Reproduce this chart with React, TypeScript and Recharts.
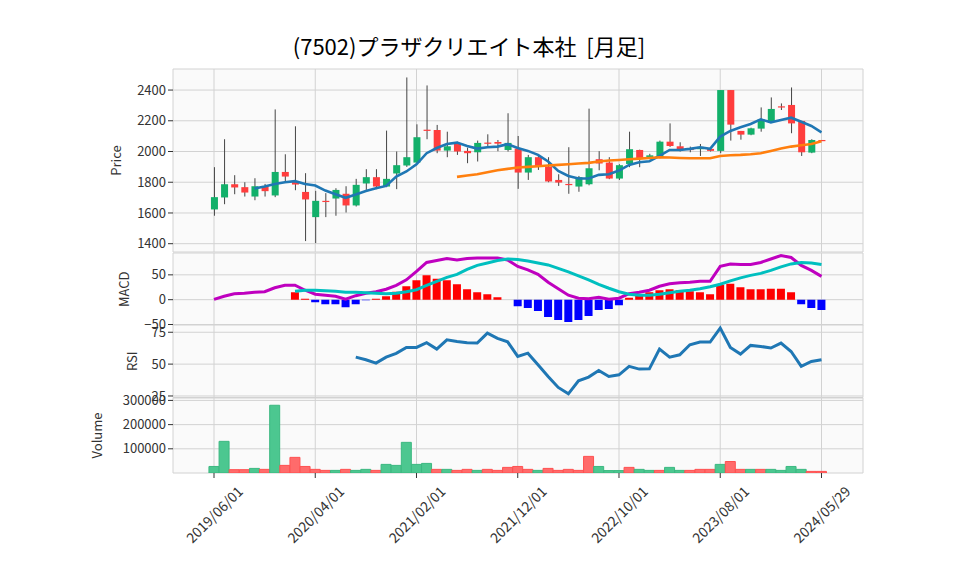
import React from 'react';
import { ComposedChart, Bar, Line, XAxis, YAxis, CartesianGrid, Cell } from 'recharts';

// monthly candles, 2019/06 .. 2024/05
const opens = [
  1623, 1701, 1787, 1768, 1707, 1774, 1714, 1867, 1802, 1737,
  1573, 1679, 1694, 1725, 1649, 1792, 1833, 1772, 1857, 1909,
  1928, 2142, 2140, 2006, 2049, 2004, 1995, 2058, 2062, 2010,
  2019, 1863, 1963, 1902, 1815, 1789, 1772, 1787, 1950, 1928,
  1824, 1919, 2010, 1960, 1963, 2064, 2034, 2017, 2015, 2017,
  2004, 2400, 2134, 2110, 2149, 2194, 2294, 2303, 2199, 1993,
  2075,
];
const highs = [
  1898, 2080, 1846, 1800, 1826, 1789, 2274, 1982, 2164, 1859,
  1744, 1729, 1761, 1774, 1822, 1885, 1885, 2136, 2000, 2482,
  2177, 2430, 2173, 2129, 2064, 2025, 2071, 2112, 2075, 2249,
  2101, 1978, 1978, 1963, 1852, 2028, 1841, 2279, 2002, 1963,
  1917, 2129, 2012, 1985, 2071, 2183, 2060, 2032, 2049, 2019,
  2400, 2400, 2134, 2155, 2287, 2352, 2313, 2417, 2199, 2080,
  2075,
];
const lows = [
  1582, 1657, 1722, 1707, 1683, 1707, 1703, 1805, 1748, 1417,
  1404, 1573, 1582, 1603, 1642, 1750, 1755, 1768, 1755, 1900,
  1925, 2080, 1989, 1963, 1978, 1924, 1935, 2030, 2002, 2000,
  1757, 1815, 1880, 1800, 1776, 1725, 1738, 1780, 1878, 1820,
  1815, 1898, 1898, 1955, 1956, 2030, 2000, 1995, 1971, 2000,
  1989, 2071, 2077, 2106, 2129, 2190, 2270, 2119, 1971, 1989,
  2069,
];
const closes = [
  1703, 1787, 1766, 1733, 1774, 1742, 1867, 1837, 1785, 1688,
  1679, 1675, 1750, 1649, 1783, 1833, 1772, 1822, 1911, 1963,
  2093, 2136, 2006, 2034, 2000, 1989, 2056, 2054, 2051, 2056,
  1863, 1963, 1902, 1805, 1798, 1783, 1833, 1891, 1922, 1824,
  1911, 2015, 1956, 1975, 2064, 2036, 2015, 2012, 2030, 2004,
  2400, 2175, 2110, 2151, 2209, 2277, 2290, 2183, 1995, 2075,
  2069,
];
const maShort = [
  null, null, null, null, 1759, 1772, 1789, 1800, 1807, 1789,
  1779, 1746, 1722, 1699, 1720, 1743, 1761, 1776, 1837, 1870,
  1917, 1989, 2023, 2049, 2058, 2036, 2019, 2028, 2032, 2048,
  2023, 2004, 1978, 1935, 1874, 1841, 1824, 1824, 1848, 1852,
  1876, 1913, 1930, 1937, 1971, 2010, 2010, 2017, 2028, 2017,
  2097, 2134, 2158, 2179, 2209, 2190, 2205, 2220, 2194, 2166,
  2125,
];
const maLong = [
  null, null, null, null, null, null, null, null, null, null,
  null, null, null, null, null, null, null, null, null, null,
  null, null, null, null, 1835, 1844, 1852, 1865, 1878, 1887,
  1896, 1900, 1904, 1909, 1913, 1917, 1922, 1926, 1935, 1941,
  1945, 1950, 1954, 1958, 1963, 1961, 1958, 1956, 1956, 1956,
  1971, 1976, 1978, 1982, 1989, 2004, 2019, 2032, 2041, 2049,
  2067,
];
const macd = [
  0.7, 7, 12, 13, 15, 16, 24, 29, 29, 19,
  11, 9, 7, 1, 8, 13, 16, 21, 29, 40,
  57, 75, 79, 83, 80, 83, 84, 84, 84, 80,
  67, 60, 51, 35, 22, 9, 3, 2, 5, 1,
  3, 12, 15, 19, 27, 32, 34, 35, 37, 37,
  67, 72, 71, 71, 75, 82, 89, 85, 69, 59,
  47,
];
const signal = [
  null, null, null, null, null, null, null, null, 17, 19,
  19, 18, 17, 15, 15, 14, 13, 12, 13, 16,
  20, 29, 37, 45, 51, 61, 69, 74, 79, 82,
  81, 78, 74, 70, 63, 56, 48, 40, 31, 23,
  16, 11, 9, 9, 11, 14, 17, 19, 22, 26,
  31, 38, 44, 49, 53, 59, 66, 72, 75, 74,
  71,
];
const hist = [
  null, null, null, null, null, null, null, null, 15, 2,
  -5, -9, -9, -15, -9, -1, 2, 7, 16, 27,
  39, 49, 42, 39, 31, 21, 15, 11, 5, 0,
  -13, -17, -23, -35, -41, -45, -41, -33, -21, -19,
  -11, 4, 10, 15, 19, 21, 19, 17, 15, 11,
  30, 32, 25, 21, 21, 22, 22, 15, -9, -17,
  -21,
];
const rsi = [
  null, null, null, null, null, null, null, null, null, null,
  null, null, null, null, 55.5, 53.4, 50.8, 55.5, 58.4, 63.1,
  63.1, 66.8, 61.8, 69.1, 67.8, 66.8, 66.5, 74.3, 70.2, 67.5,
  56, 58.6, 49.5, 40.3, 31.7, 26.7, 36.9, 39.8, 45, 40.3,
  41.6, 48.2, 46.1, 46.3, 61.8, 55.5, 57.3, 65.2, 67.3, 67.3,
  78.3, 63.1, 57.9, 64.7, 63.9, 62.6, 66.5, 59.9, 48.2, 52.1,
  53.4,
];
const volumes = [
  27000, 130800, 13700, 13700, 19000, 15000, 280000, 31500, 64600, 27000,
  15000, 10800, 10800, 15000, 10800, 15000, 10800, 35600, 31500, 126700,
  35600, 39700, 15000, 15000, 10800, 15000, 10800, 15000, 10800, 23200,
  27000, 15000, 10800, 19000, 10800, 15000, 10800, 68700, 27000, 10000,
  10000, 23200, 15000, 10800, 10800, 23200, 10800, 10800, 15000, 15000,
  35600, 47500, 15000, 15000, 15000, 15000, 10800, 27000, 15000, 6600,
  6600,
];
// u = close above previous close, d = below
const volumeDir = 'uuddududdddduduuduuuuududduddddduddddduuuduuduudddudduduuuuddud';

const xTicks = [0, 10, 20, 30, 40, 50, 60];
const xTickLabels = ['2019/06/01', '2020/04/01', '2021/02/01', '2021/12/01', '2022/10/01', '2023/08/01', '2024/05/29'];

const priceTicks = [1400, 1600, 1800, 2000, 2200, 2400];
const macdTicks = [-50, 0, 50];
const rsiTicks = [25, 50, 75];
const volumeTicks = [100000, 200000, 300000];

const rows = opens.map((o, i) => ({
  i,
  open: o,
  high: highs[i],
  low: lows[i],
  close: closes[i],
  range: [lows[i], highs[i]],
  maShort: maShort[i],
  maLong: maLong[i],
  macd: macd[i],
  signal: signal[i],
  hist: hist[i],
  rsi: rsi[i],
  vol: volumes[i],
  volUp: volumeDir[i] === 'u',
}));

const UP = '#12b06a';
const DOWN = '#ff3d3d';
const FONT = '"Noto Sans CJK JP", "Noto Sans", sans-serif';
const X_DOMAIN: [number, number] = [-4.05, 64.1];
const W = 958;
const AXIS_W = 90;
const PLOT_LEFT = 173;
const PLOT_RIGHT = 863;
const margin = (top: number, bottom: number) => ({ top, bottom, left: PLOT_LEFT - AXIS_W, right: W - PLOT_RIGHT });
const tickStyle = { fontSize: 13, fill: '#333', fontFamily: FONT };

const Candle = (props: any) => {
  const { x, y, width, height, payload } = props;
  if (x == null || y == null) return null;
  const top = Math.min(y, y + height);
  const h = Math.abs(height);
  const { open, close, high, low } = payload;
  const span = high - low || 1;
  const toY = (v: number) => top + ((high - v) / span) * h;
  const up = close >= open;
  const cx = x + width / 2;
  const bTop = toY(Math.max(open, close));
  const bBot = toY(Math.min(open, close));
  return (
    <g>
      <line x1={cx} x2={cx} y1={top} y2={top + h} stroke="#444" strokeWidth={1} />
      <rect x={x} y={bTop} width={width} height={Math.max(bBot - bTop, 1.2)} fill={up ? UP : DOWN} />
    </g>
  );
};

const DateTick = (props: any) => {
  const { x, y, payload } = props;
  const idx = xTicks.indexOf(payload.value);
  const cy = y + 34;
  return (
    <text
      x={x}
      y={cy}
      textAnchor="middle"
      dominantBaseline="central"
      transform={`rotate(-45, ${x}, ${cy})`}
      fontSize={14}
      fill="#333"
      fontFamily={FONT}
    >
      {xTickLabels[idx]}
    </text>
  );
};

const yLabel = (value: string, dx: number) => ({
  value,
  angle: -90,
  position: 'center' as const,
  dx,
  style: { fontSize: 13, fill: '#333', fontFamily: FONT },
});

const minusFmt = (v: number) => String(v).replace('-', '\u2212');

const Panel = ({ top, plotH, bottom, children }: any) => (
  <div style={{ position: 'absolute', left: 0, top }}>
    {children(plotH + 10 + bottom)}
  </div>
);

export default function App() {
  return (
    <div style={{ position: 'absolute', left: 0, top: 0, width: W, height: 575, background: '#fff', fontFamily: FONT }}>
      <div style={{ position: 'absolute', left: 0, top: 32, width: 938, textAlign: 'center', fontSize: 22, lineHeight: '26px', color: '#000', whiteSpace: 'pre' }}>
        {'(7502)プラザクリエイト本社  [月足]'}
      </div>

      <Panel top={59.3} plotH={183} bottom={10}>
        {(h: number) => (
          <ComposedChart width={W} height={h} data={rows} margin={margin(10, 10)}>
            <CartesianGrid stroke="#d2d2d2" fill="#fafafa" />
            <XAxis dataKey="i" type="number" domain={X_DOMAIN} ticks={xTicks} allowDataOverflow hide />
            <YAxis
              width={AXIS_W}
              domain={[1346, 2537]}
              ticks={priceTicks}
              allowDataOverflow
              axisLine={false}
              tickLine={{ stroke: '#333' }}
              tickSize={5}
              tick={tickStyle}
              label={yLabel('Price', -12)}
            />
            <Bar dataKey="range" barSize={7} shape={<Candle />} isAnimationActive={false} />
            <Line dataKey="maShort" stroke="#1f77b4" strokeWidth={2.6} dot={false} isAnimationActive={false} />
            <Line dataKey="maLong" stroke="#ff7f0e" strokeWidth={2.6} dot={false} isAnimationActive={false} />
          </ComposedChart>
        )}
      </Panel>

      <Panel top={242.5} plotH={72.5} bottom={10}>
        {(h: number) => (
          <ComposedChart width={W} height={h} data={rows} margin={margin(10, 10)}>
            <CartesianGrid stroke="#d2d2d2" fill="#fafafa" />
            <XAxis dataKey="i" type="number" domain={X_DOMAIN} ticks={xTicks} allowDataOverflow hide />
            <YAxis
              width={AXIS_W}
              domain={[-52, 94]}
              ticks={macdTicks}
              allowDataOverflow
              axisLine={false}
              tickLine={{ stroke: '#333' }}
              tickSize={5}
              tick={tickStyle}
              tickFormatter={minusFmt}
              label={yLabel('MACD', -4)}
            />
            <Bar dataKey="hist" barSize={8} isAnimationActive={false}>
              {rows.map((r) => (
                <Cell key={r.i} fill={(r.hist ?? 0) >= 0 ? '#ff0000' : '#0000ff'} />
              ))}
            </Bar>
            <Line dataKey="macd" stroke="#bf00bf" strokeWidth={3} dot={false} isAnimationActive={false} />
            <Line dataKey="signal" stroke="#00bfbf" strokeWidth={3} dot={false} isAnimationActive={false} />
          </ComposedChart>
        )}
      </Panel>

      <Panel top={315} plotH={72.5} bottom={10}>
        {(h: number) => (
          <ComposedChart width={W} height={h} data={rows} margin={margin(10, 10)}>
            <CartesianGrid stroke="#d2d2d2" fill="#fafafa" />
            <XAxis dataKey="i" type="number" domain={X_DOMAIN} ticks={xTicks} allowDataOverflow hide />
            <YAxis
              width={AXIS_W}
              domain={[23.8, 80.7]}
              ticks={rsiTicks}
              allowDataOverflow
              axisLine={false}
              tickLine={{ stroke: '#333' }}
              tickSize={5}
              tick={tickStyle}
              label={yLabel('RSI', 4)}
            />
            <Line dataKey="rsi" stroke="#1f77b4" strokeWidth={3} dot={false} isAnimationActive={false} />
          </ComposedChart>
        )}
      </Panel>

      <Panel top={387.5} plotH={75} bottom={100}>
        {(h: number) => (
          <ComposedChart width={W} height={h} data={rows} margin={margin(10, 0)}>
            <CartesianGrid stroke="#d2d2d2" fill="#fafafa" />
            <XAxis
              dataKey="i"
              type="number"
              domain={X_DOMAIN}
              ticks={xTicks}
              allowDataOverflow
              height={100}
              axisLine={false}
              tickLine={{ stroke: '#333' }}
              tickSize={5}
              tick={<DateTick />}
            />
            <YAxis
              width={AXIS_W}
              domain={[0, 310000]}
              ticks={volumeTicks}
              allowDataOverflow
              axisLine={false}
              tickLine={{ stroke: '#333' }}
              tickSize={5}
              tick={tickStyle}
              label={yLabel('Volume', -31)}
            />
            <Bar dataKey="vol" barSize={10} isAnimationActive={false}>
              {rows.map((r) => (
                <Cell key={r.i} fill={r.volUp ? '#4cc790' : '#ff6b6b'} stroke={r.volUp ? '#3bb880' : '#ff5050'} strokeWidth={1} />
              ))}
            </Bar>
          </ComposedChart>
        )}
      </Panel>
    </div>
  );
}
